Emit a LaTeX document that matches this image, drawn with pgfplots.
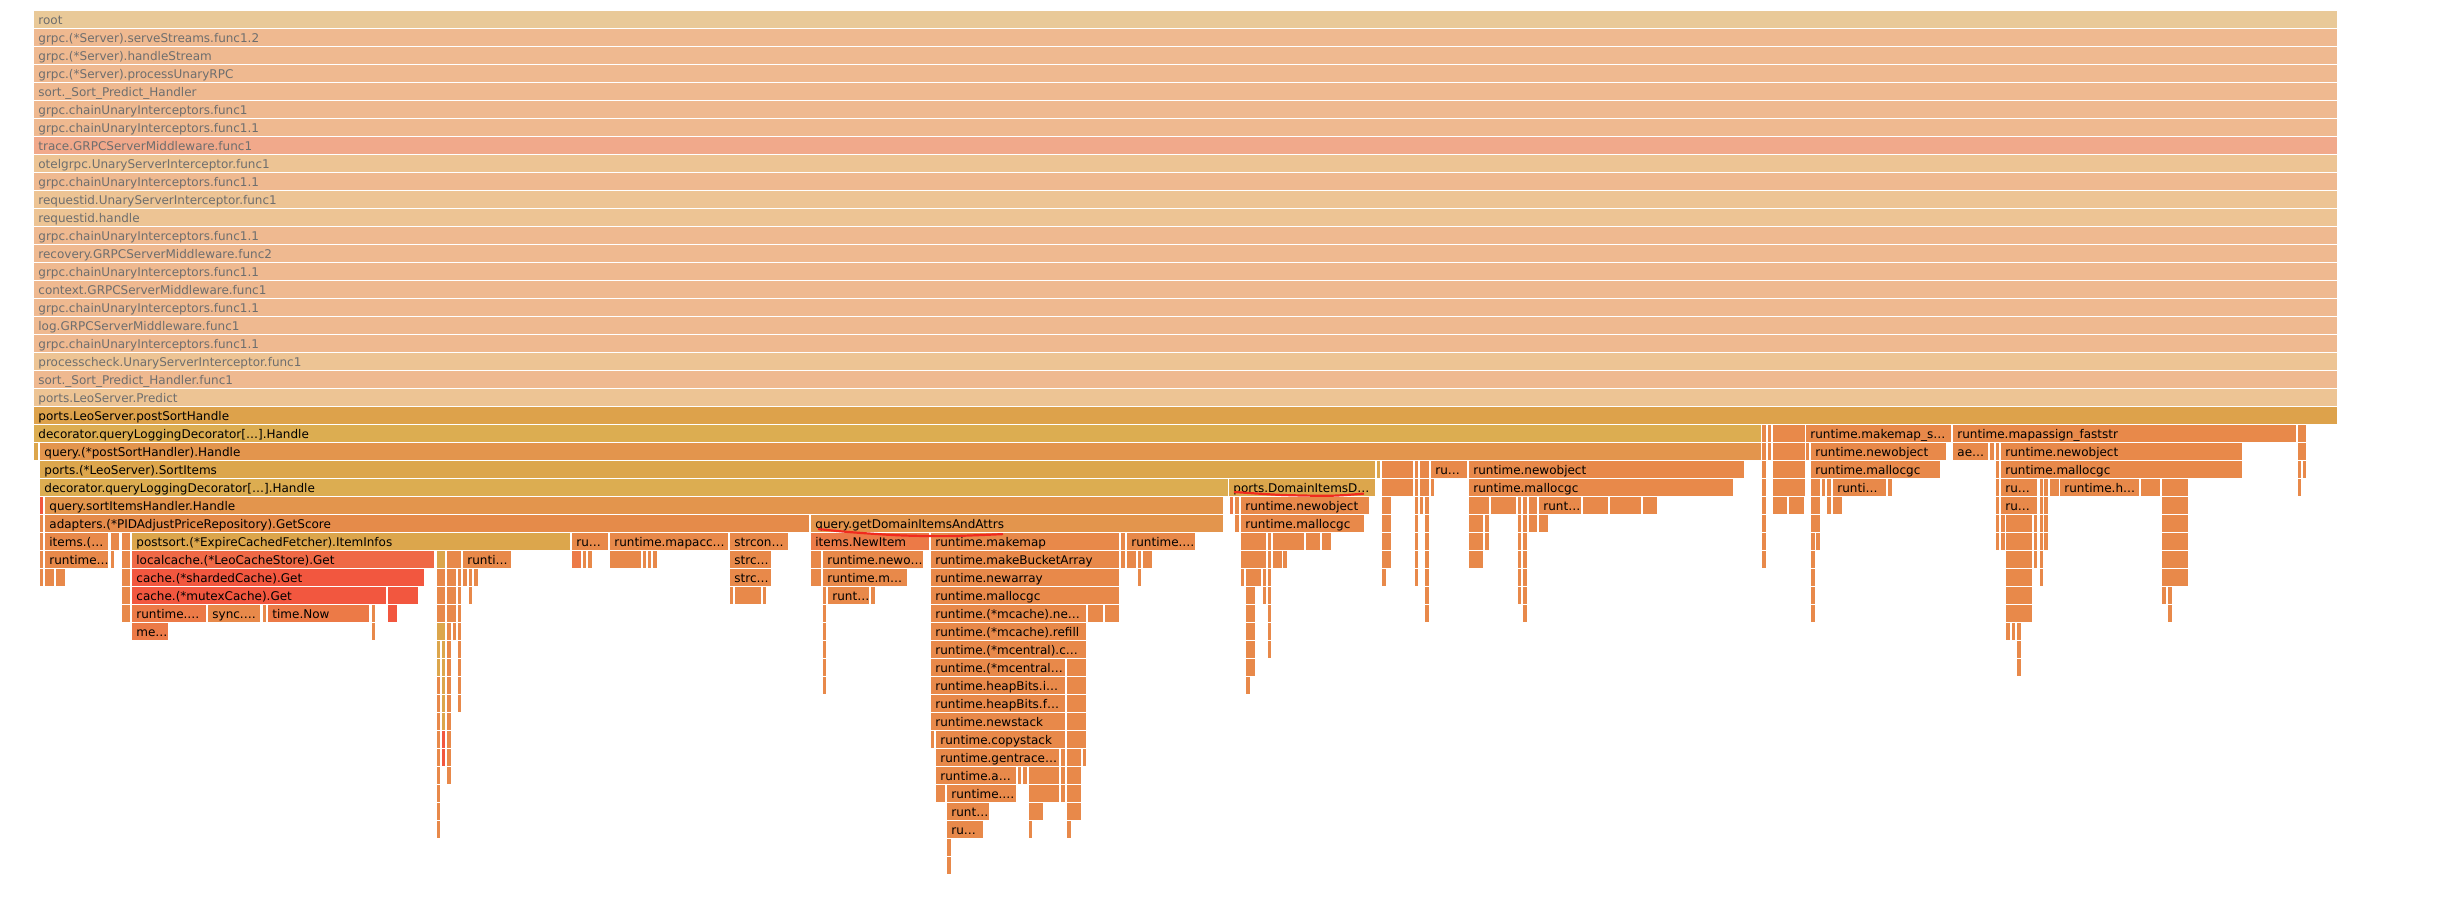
\documentclass[border=0pt]{standalone}
\usepackage{fontspec}
\setmainfont{DejaVu Sans}
\usepackage{pgfplots}
\usepackage{pgfplotstable}
\pgfplotsset{compat=1.18}
\definecolor{cRoot}{HTML}{E9C998}
\definecolor{cPeach}{HTML}{EFB990}
\definecolor{cSalm}{HTML}{F1A98B}
\definecolor{cTan}{HTML}{EDC494}
\definecolor{cGoldD}{HTML}{DDA24B}
\definecolor{cGoldY}{HTML}{DCAD51}
\definecolor{cGold}{HTML}{DCA64C}
\definecolor{cOrL}{HTML}{E3954D}
\definecolor{cOrA}{HTML}{E58B4A}
\definecolor{cOr}{HTML}{E8894A}
\definecolor{cOrR}{HTML}{EC7A47}
\definecolor{cRedL}{HTML}{EF6946}
\definecolor{cRed}{HTML}{F2573F}
\definecolor{tGray}{HTML}{6E6E6E}
\definecolor{cMark}{HTML}{F02A1E}
\pgfdeclareplotmark{nomark}{}
\pgfplotsset{
  fbox/.style={scatter, only marks, mark=nomark,
    visualization depends on={\thisrow{w} \as \bw},
    scatter/@pre marker code/.code={%
      \pgfmathsetmacro\ww{\bw*0.5-0.75}%
      \fill[#1] (0pt,0pt) rectangle (\ww pt,-8.25pt);},
    scatter/@post marker code/.code={}},
  flbl/.style={only marks, mark=nomark, point meta=explicit symbolic,
    nodes near coords,
    every node near coord/.append style={anchor=base west, xshift=2pt, yshift=-6.5pt,
      inner sep=0pt, font=\fontsize{6}{7}\selectfont, text=#1}},
}
% boxes: left x (px), width (px), row
\pgfplotstableread{
x w r
34 2304 0
}\tRoot
\pgfplotstableread{
x w r
34 2304 1
34 2304 2
34 2304 3
34 2304 4
34 2304 5
34 2304 6
34 2304 9
34 2304 12
34 2304 13
34 2304 14
34 2304 15
34 2304 16
34 2304 17
34 2304 18
34 2304 20
}\tPeach
\pgfplotstableread{
x w r
34 2304 7
}\tSalm
\pgfplotstableread{
x w r
34 2304 8
34 2304 10
34 2304 11
34 2304 19
34 2304 21
}\tTan
\pgfplotstableread{
x w r
34 2304 22
}\tGoldD
\pgfplotstableread{
x w r
34 1728 23
40 1189 26
}\tGoldY
\pgfplotstableread{
x w r
34 5 24
40 1336 25
1377 4 25
1229 147 26
132 439 29
437 9 30
437 9 34
437 4 35
437 4 36
442 4 35
442 4 36
442 4 37
442 4 38
442 4 39
}\tGold
\pgfplotstableread{
x w r
40 1722 24
45 1179 27
811 413 28
}\tOrL
\pgfplotstableread{
x w r
45 765 28
}\tOrA
\pgfplotstableread{
x w r
132 303 30
}\tRedL
\pgfplotstableread{
x w r
40 4 27
132 293 31
132 255 32
388 31 32
388 10 33
442 4 40
442 4 41
}\tRed
\pgfplotstableread{
x w r
811 119 29
572 10 30
1230 4 27
268 102 33
132 75 33
132 37 34
}\tOrR
\pgfplotstableread{
x w r
1762 5 23
1768 4 23
1773 33 23
1806 146 23
1953 344 23
2298 9 23
1762 5 24
1768 4 24
1773 33 24
1806 4 24
1811 136 24
1953 36 24
1990 5 24
1996 4 24
2001 242 24
2298 9 24
1382 32 25
1415 4 25
1420 10 25
1431 37 25
1469 276 25
1762 5 25
1773 33 25
1811 130 25
1996 4 25
2001 242 25
2298 4 25
2303 4 25
1382 32 26
1415 4 26
1420 10 26
1431 4 26
1469 265 26
1762 5 26
1773 33 26
1811 10 26
1822 4 26
1827 5 26
1833 54 26
1888 5 26
1996 4 26
2001 37 26
2040 4 26
2044 5 26
2050 10 26
2060 80 26
2141 20 26
2162 27 26
2298 4 26
1235 5 27
1241 129 27
1382 10 27
1415 4 27
1420 4 27
1425 5 27
1469 21 27
1491 26 27
1518 4 27
1523 5 27
1529 9 27
1539 43 27
1583 26 27
1610 32 27
1643 15 27
1762 5 27
1773 15 27
1789 16 27
1811 10 27
1827 5 27
1833 10 27
1996 4 27
2001 37 27
2040 4 27
2044 5 27
2162 27 27
40 4 28
1235 5 28
1241 124 28
1382 10 28
1415 4 28
1425 5 28
1469 15 28
1485 5 28
1518 4 28
1523 5 28
1529 9 28
1539 10 28
1762 5 28
1811 10 28
1996 4 28
2001 5 28
2006 27 28
2034 4 28
2040 4 28
2044 5 28
2162 27 28
40 4 29
45 64 29
111 9 29
122 9 29
572 37 29
610 119 29
730 59 29
931 189 29
1121 5 29
1127 69 29
1241 26 29
1268 4 29
1273 32 29
1306 15 29
1322 10 29
1382 10 29
1415 4 29
1425 5 29
1469 15 29
1485 5 29
1518 4 29
1523 5 29
1762 5 29
1811 5 29
1816 5 29
1996 4 29
2001 5 29
2006 27 29
2034 4 29
2040 4 29
2044 5 29
2162 27 29
40 4 30
45 64 30
111 4 30
122 9 30
447 15 30
463 49 30
583 4 30
588 5 30
610 32 30
643 4 30
648 4 30
653 5 30
730 42 30
811 11 30
823 101 30
931 189 30
1121 5 30
1127 10 30
1138 4 30
1143 10 30
1241 26 30
1268 4 30
1273 10 30
1283 5 30
1382 10 30
1415 4 30
1425 5 30
1469 15 30
1518 4 30
1523 5 30
1762 5 30
1811 5 30
2006 27 30
2034 4 30
2040 4 30
2162 27 30
40 4 31
45 10 31
56 10 31
122 9 31
437 9 31
447 10 31
458 4 31
463 5 31
469 4 31
474 5 31
730 42 31
811 11 31
823 85 31
931 189 31
1138 4 31
1241 4 31
1246 16 31
1263 4 31
1268 4 31
1382 5 31
1415 4 31
1425 5 31
1518 4 31
1523 5 31
1811 5 31
2006 27 31
2040 4 31
2162 27 31
122 9 32
437 9 32
447 10 32
458 4 32
469 4 32
730 4 32
735 27 32
763 4 32
823 4 32
828 42 32
871 5 32
931 189 32
1246 10 32
1263 4 32
1268 4 32
1425 5 32
1518 4 32
1523 5 32
1811 5 32
2006 27 32
2162 5 32
2168 5 32
122 9 33
208 53 33
263 4 33
372 4 33
437 9 33
447 10 33
458 4 33
823 4 33
931 156 33
1088 16 33
1105 15 33
1246 10 33
1268 4 33
1425 5 33
1523 5 33
1811 5 33
2006 27 33
2168 5 33
372 4 34
447 5 34
453 4 34
458 4 34
823 4 34
931 156 34
1246 10 34
1268 4 34
2006 5 34
2012 4 34
2017 5 34
447 5 35
458 4 35
823 4 35
931 156 35
1246 10 35
1268 4 35
2017 5 35
447 5 36
458 4 36
823 4 36
931 135 36
1067 20 36
1246 10 36
2017 5 36
437 4 37
447 5 37
458 4 37
823 4 37
931 135 37
1067 20 37
1246 5 37
437 4 38
447 5 38
458 4 38
931 135 38
1067 20 38
437 4 39
447 5 39
931 135 39
1067 20 39
437 4 40
447 5 40
931 4 40
936 130 40
1067 20 40
437 4 41
447 5 41
936 124 41
1061 5 41
1067 15 41
1083 4 41
437 4 42
447 5 42
936 81 42
1018 4 42
1023 5 42
1029 31 42
1061 5 42
1067 15 42
437 4 43
936 10 43
947 70 43
1029 31 43
1061 5 43
1067 15 43
437 4 44
947 43 44
1029 15 44
1067 15 44
437 4 45
947 37 45
1029 4 45
1067 5 45
947 5 46
947 5 47
}\tOr
\pgfplotstableread{
x r t
34 0 root
34 1 grpc.(*Server).serveStreams.func1.2
34 2 grpc.(*Server).handleStream
34 3 grpc.(*Server).processUnaryRPC
34 4 sort.\_Sort\_Predict\_Handler
34 5 grpc.chainUnaryInterceptors.func1
34 6 grpc.chainUnaryInterceptors.func1.1
34 7 trace.GRPCServerMiddleware.func1
34 8 otelgrpc.UnaryServerInterceptor.func1
34 9 grpc.chainUnaryInterceptors.func1.1
34 10 requestid.UnaryServerInterceptor.func1
34 11 requestid.handle
34 12 grpc.chainUnaryInterceptors.func1.1
34 13 recovery.GRPCServerMiddleware.func2
34 14 grpc.chainUnaryInterceptors.func1.1
34 15 context.GRPCServerMiddleware.func1
34 16 grpc.chainUnaryInterceptors.func1.1
34 17 log.GRPCServerMiddleware.func1
34 18 grpc.chainUnaryInterceptors.func1.1
34 19 processcheck.UnaryServerInterceptor.func1
34 20 sort.\_Sort\_Predict\_Handler.func1
34 21 ports.LeoServer.Predict
}\lTop
\pgfplotstableread{
x r t
34 22 ports.LeoServer.postSortHandle
34 23 decorator.queryLoggingDecorator[…].Handle
1806 23 runtime.makemap\_s…
1953 23 runtime.mapassign\_faststr
40 24 query.(*postSortHandler).Handle
1811 24 runtime.newobject
1953 24 ae…
2001 24 runtime.newobject
40 25 ports.(*LeoServer).SortItems
1431 25 ru…
1469 25 runtime.newobject
1811 25 runtime.mallocgc
2001 25 runtime.mallocgc
40 26 decorator.queryLoggingDecorator[…].Handle
1229 26 ports.DomainItemsD…
1469 26 runtime.mallocgc
1833 26 runti…
2001 26 ru…
2060 26 runtime.h…
45 27 query.sortItemsHandler.Handle
1241 27 runtime.newobject
1539 27 runt…
2001 27 ru…
45 28 adapters.(*PIDAdjustPriceRepository).GetScore
811 28 query.getDomainItemsAndAttrs
1241 28 runtime.mallocgc
45 29 items.(…
132 29 postsort.(*ExpireCachedFetcher).ItemInfos
572 29 ru…
610 29 runtime.mapacc…
730 29 strcon…
811 29 items.NewItem
931 29 runtime.makemap
1127 29 runtime.…
45 30 runtime…
132 30 localcache.(*LeoCacheStore).Get
463 30 runti…
730 30 strc…
823 30 runtime.newo…
931 30 runtime.makeBucketArray
132 31 cache.(*shardedCache).Get
730 31 strc…
823 31 runtime.m…
931 31 runtime.newarray
132 32 cache.(*mutexCache).Get
828 32 runt…
931 32 runtime.mallocgc
132 33 runtime.…
208 33 sync.…
268 33 time.Now
931 33 runtime.(*mcache).ne…
132 34 me…
931 34 runtime.(*mcache).refill
931 35 runtime.(*mcentral).c…
931 36 runtime.(*mcentral…
931 37 runtime.heapBits.i…
931 38 runtime.heapBits.f…
931 39 runtime.newstack
936 40 runtime.copystack
936 41 runtime.gentrace…
936 42 runtime.a…
947 43 runtime.…
947 44 runt…
947 45 ru…
}\lMain
\begin{document}
\begin{tikzpicture}
\begin{axis}[
  scale only axis, width=1228pt, height=460pt,
  xmin=0, xmax=2456, ymin=-0.6111, ymax=50.5, y dir=reverse,
  hide axis, clip=false, clip marker paths=true,
]
\addplot[draw=none, mark=none] coordinates {(0,-0.6111) (2456,50.5)};
\addplot[fbox=cRoot] table[x=x,y=r] {\tRoot};
\addplot[fbox=cPeach] table[x=x,y=r] {\tPeach};
\addplot[fbox=cSalm] table[x=x,y=r] {\tSalm};
\addplot[fbox=cTan] table[x=x,y=r] {\tTan};
\addplot[fbox=cGoldD] table[x=x,y=r] {\tGoldD};
\addplot[fbox=cGoldY] table[x=x,y=r] {\tGoldY};
\addplot[fbox=cGold] table[x=x,y=r] {\tGold};
\addplot[fbox=cOrL] table[x=x,y=r] {\tOrL};
\addplot[fbox=cOrA] table[x=x,y=r] {\tOrA};
\addplot[fbox=cRedL] table[x=x,y=r] {\tRedL};
\addplot[fbox=cRed] table[x=x,y=r] {\tRed};
\addplot[fbox=cOrR] table[x=x,y=r] {\tOrR};
\addplot[fbox=cOr] table[x=x,y=r] {\tOr};
\addplot[flbl=tGray] table[x=x,y=r,meta=t] {\lTop};
\addplot[flbl=black] table[x=x,y=r,meta=t] {\lMain};
% hand-drawn red underlines
\addplot[cMark, line width=1.1pt, smooth, mark=none] coordinates {(818,28.78) (850,28.95) (900,29.13) (950,29.17) (1003,29.06)};
\addplot[cMark, line width=1.1pt, smooth, mark=none] coordinates {(1234,26.72) (1280,26.88) (1330,26.93) (1364,26.81)};
\end{axis}
\end{tikzpicture}
\end{document}
